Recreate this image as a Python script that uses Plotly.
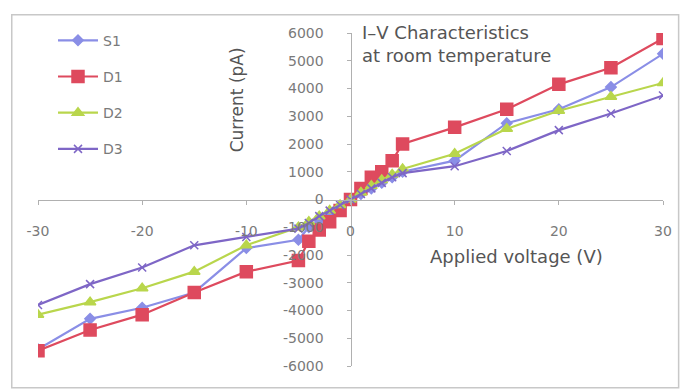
import plotly.graph_objects as go

voltage = [-30, -25, -20, -15, -10, -5, -4, -3, -2, -1, 0, 1, 2, 3, 4, 5, 10, 15, 20, 25, 30]

s1 = [-5400, -4300, -3900, -3350, -1750, -1450, -1000, -750, -500, -250, 0,
      200, 400, 600, 800, 1000, 1400, 2750, 3250, 4050, 5250]
d1 = [-5450, -4700, -4150, -3350, -2600, -2200, -1500, -1100, -800, -400, 0,
      400, 800, 1000, 1400, 2000, 2600, 3250, 4150, 4750, 5800]
d2 = [-4150, -3700, -3200, -2600, -1650, -1000, -800, -600, -400, -200, 0,
      250, 500, 700, 900, 1100, 1650, 2550, 3200, 3700, 4200]
d3 = [-3800, -3050, -2450, -1650, -1350, -1050, -850, -600, -400, -200, 0,
      200, 400, 600, 800, 950, 1200, 1750, 2500, 3100, 3750]

series_names = ["S1", "D1", "D2", "D3"]
series_values = [s1, d1, d2, d3]
colors = ["#8a8ee6", "#de4a5e", "#b9d64c", "#7e66c6"]
symbols = ["diamond", "square", "triangle-up", "x-thin"]
sizes = [8, 12, 10, 8]

x_ticks = [-30, -20, -10, 0, 10, 20, 30]
y_ticks = [-6000, -5000, -4000, -3000, -2000, -1000, 0, 1000, 2000, 3000, 4000, 5000, 6000]

fig = go.Figure()
for name, vals, col, sym, sz in zip(series_names, series_values, colors, symbols, sizes):
    fig.add_trace(go.Scatter(
        x=voltage, y=vals, name=name, mode="lines+markers",
        line=dict(color=col, width=2.2),
        marker=dict(symbol=sym, size=sz, color=col,
                    line=dict(color=col, width=1.5)),
        legendgroup=name,
    ))

tick_font = dict(family="DejaVu Sans", size=14, color="#7a7a7a")
label_font = dict(family="DejaVu Sans", size=18, color="#555555")

fig.update_layout(
    width=683, height=392,
    margin=dict(l=38, r=20, t=33, b=26),
    paper_bgcolor="white", plot_bgcolor="white",
    showlegend=True,
    legend=dict(x=0.024, y=1.025, xanchor="left", yanchor="top",
                font=dict(family="DejaVu Sans", size=14, color="#7a7a7a"),
                bgcolor="rgba(0,0,0,0)", tracegroupgap=15, itemwidth=40),
    xaxis=dict(range=[-30, 30], tickvals=x_ticks, ticktext=[str(v) for v in x_ticks],
               showgrid=False, zeroline=False, showline=True, linecolor="#b0b0b0",
               linewidth=1, ticks="outside", ticklen=4, tickcolor="#b0b0b0",
               anchor="free", position=0.5, tickfont=tick_font,
               ticklabelstandoff=15),
    yaxis=dict(range=[-6000, 6000], tickvals=y_ticks, ticktext=[str(v) for v in y_ticks],
               showgrid=False, zeroline=False, showline=True, linecolor="#b0b0b0",
               linewidth=1, ticks="outside", ticklen=4, tickcolor="#b0b0b0",
               anchor="free", position=0.5, tickfont=tick_font,
               ticklabelstandoff=20),
    shapes=[dict(type="rect", xref="paper", yref="paper",
                 x0=-0.042, x1=1.025, y0=-0.065, y1=1.055,
                 line=dict(color="#c8c8c8", width=1.5), fillcolor="rgba(0,0,0,0)",
                 layer="below")],
    annotations=[
        dict(text="I–V Characteristics<br>at room temperature", xref="paper", yref="paper",
             x=0.515, y=1.04, xanchor="left", yanchor="top", align="left", showarrow=False,
             font=label_font),
        dict(text="Applied voltage (V)", xref="paper", yref="paper",
             x=0.765, y=0.33, xanchor="center", yanchor="middle", showarrow=False,
             font=label_font),
        dict(text="Current (pA)", xref="paper", yref="paper",
             x=0.318, y=0.8, xanchor="center", yanchor="middle", showarrow=False,
             textangle=-90,
             font=dict(family="DejaVu Sans", size=17, color="#555555")),
    ],
)

fig.write_html("out.html")
